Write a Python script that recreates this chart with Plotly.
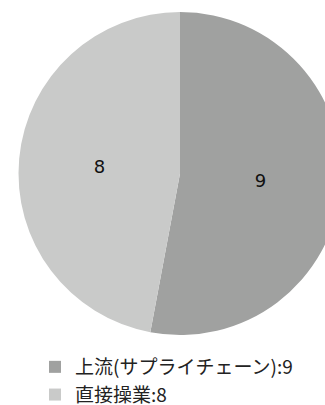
import plotly.graph_objects as go

categories = ["上流(サプライチェーン)", "直接操業"]
values = [9, 8]
colors = ["#a0a1a0", "#c9cac9"]

labels = [f"{c}:{v}" for c, v in zip(categories, values)]

W, H = 362, 405
fig = go.Figure(go.Pie(
    labels=labels,
    values=values,
    sort=False,
    direction="clockwise",
    rotation=0,
    marker=dict(colors=colors, line=dict(width=0)),
    textinfo="value",
    textposition="inside",
    insidetextfont=dict(family="DejaVu Sans", size=18, color="#111111"),
    domain=dict(x=[18 / W, 342 / W], y=[1 - 335 / H, 1 - 12 / H]),
    hoverinfo="label+value",
))

fig.update_layout(
    width=W, height=H, autosize=False,
    margin=dict(l=0, r=0, t=0, b=0, autoexpand=False),
    paper_bgcolor="white",
    showlegend=True,
    legend=dict(
        x=35 / W, xanchor="left",
        y=1 - 348 / H, yanchor="top",
        font=dict(family="Noto Sans CJK JP", size=19, color="#222222"),
        bgcolor="rgba(0,0,0,0)",
    ),
)

fig.write_html(
    "out.html",
    post_script="document.documentElement.style.overflow='hidden';document.body.style.overflow='hidden';",
)
